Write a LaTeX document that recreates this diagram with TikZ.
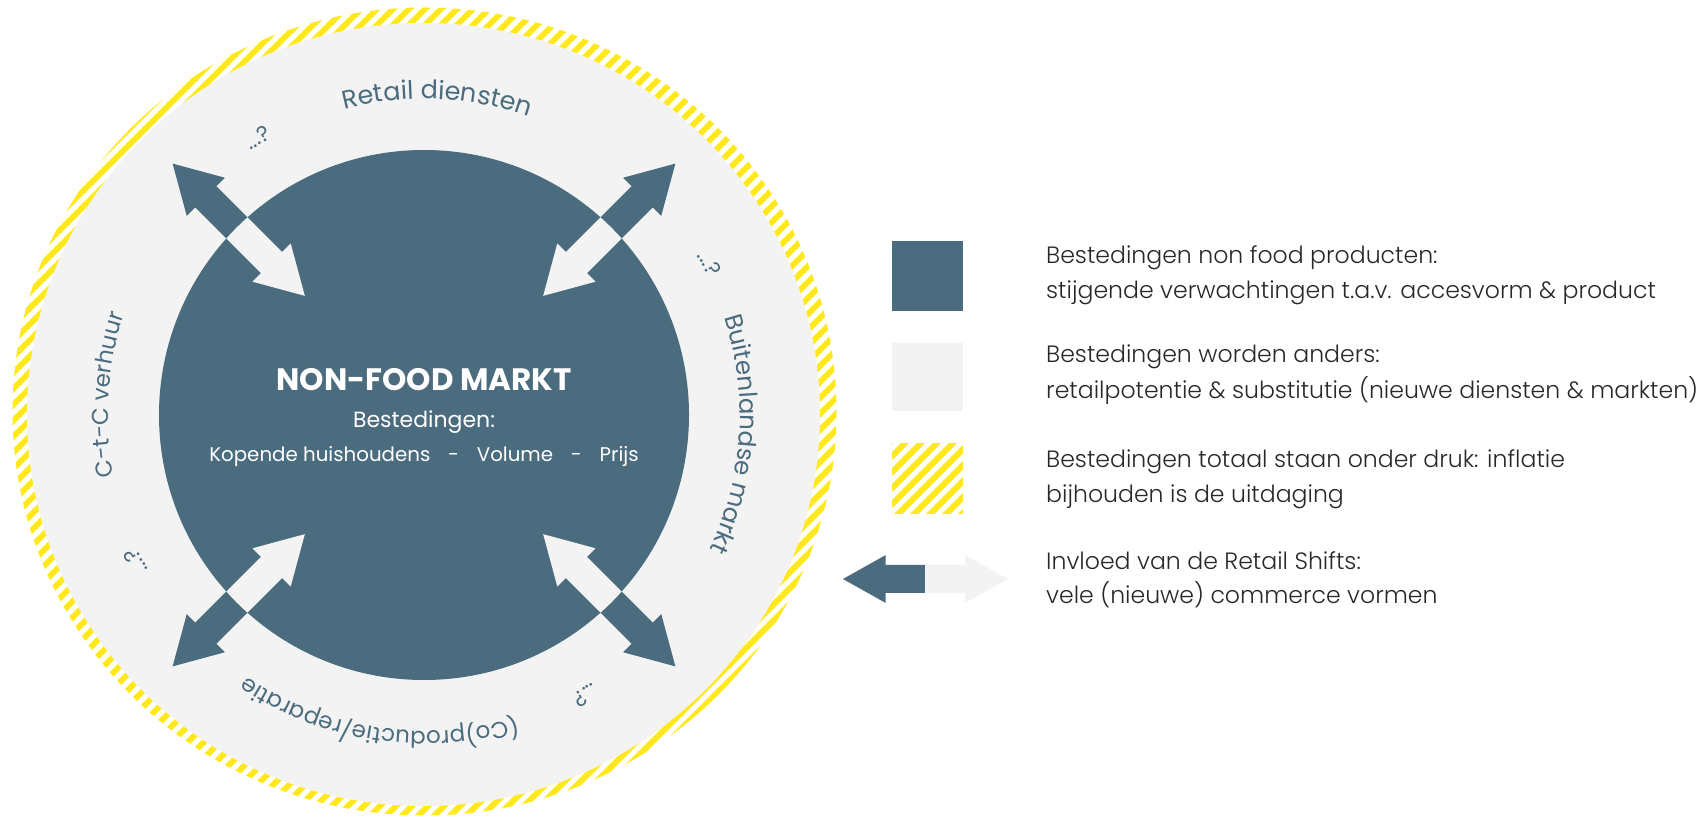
\documentclass[tikz,border=0pt]{standalone}
\usepackage{fontspec}
\setmainfont{Poppins}
\newfontfamily\lightfont{Poppins Light}
\usetikzlibrary{decorations.text,calc}
\definecolor{dark}{RGB}{74,108,126}
\definecolor{lightgrey}{RGB}{243,243,243}
\definecolor{stripe}{RGB}{255,233,28}
\definecolor{legendtxt}{RGB}{40,40,40}
\newcommand\ringtxt[3]{%
  \path[decorate,decoration={text along path,text align=center,text color=dark,
      text={|\fontsize{#2}{#2}\selectfont|#3}}]
    ($(C)+({#1+60}:316pt)$) arc[start angle={#1+60}, end angle={#1-60}, radius=316pt];}
\begin{document}
\begin{tikzpicture}[x=1pt,y=1pt,
  txt/.style={inner sep=0pt, text height=0.7em, text depth=0pt},
  legend/.style={txt, anchor=west, text=legendtxt, font=\lightfont\fontsize{23.6}{23.6}\selectfont},
  stripeline/.style={draw=stripe, line width=6pt}]
\useasboundingbox (0,0) rectangle (1703,820);
\coordinate (C) at (424,405);
% striped outer ring
\begin{scope}
  \clip (424.5,408.5) ellipse[x radius=412pt, y radius=404pt];
  \fill[white] (0,0) rectangle (860,820);
  \foreach \t in {-850,-834,...,850} \draw[stripeline] (\t,0) -- ++(900,900);
\end{scope}
% grey disk
\fill[lightgrey] (423.5,405.5) ellipse[x radius=396.5pt, y radius=391.5pt];
% dark disk
\fill[dark] (C) circle[radius=265pt];
% arrows
\foreach \a in {45,135,225,315}{
  \begin{scope}[shift={(C)},rotate=\a,shift={(262,0)}]
    \fill[dark] (-93.5,0) -- (-46.5,27) -- (-46.5,15) -- (46.5,15) -- (46.5,27) -- (93.5,0)
      -- (46.5,-27) -- (46.5,-15) -- (-46.5,-15) -- (-46.5,-27) -- cycle;
  \end{scope}}
\begin{scope}
  \clip (C) circle[radius=265pt];
  \foreach \a in {45,135,225,315}{
    \begin{scope}[shift={(C)},rotate=\a,shift={(262,0)}]
      \fill[lightgrey] (-93.5,0) -- (-46.5,27) -- (-46.5,15) -- (46.5,15) -- (46.5,27) -- (93.5,0)
        -- (46.5,-27) -- (46.5,-15) -- (-46.5,-15) -- (-46.5,-27) -- cycle;
    \end{scope}}
\end{scope}
% centre texts
\node[txt, text=white, font=\bfseries\fontsize{31}{31}\selectfont] (title) at (424,433) {NON-FOOD MARKT};
\node[txt, text=white, font=\fontsize{22}{22}\selectfont] (sub) at (424,396) {Bestedingen:};
\node[txt, text=white, font=\fontsize{19.8}{19.8}\selectfont] (items) at (424,362)
  {Kopende huishoudens\hspace{0.9em}-\hspace{0.9em}Volume\hspace{0.9em}-\hspace{0.9em}Prijs};
% ring texts
\ringtxt{87.6}{25.5}{Retail diensten}
\ringtxt{-3.6}{24.5}{Buitenlandse markt}
\ringtxt{-98.5}{23}{(Co)productie/reparatie}
\ringtxt{176.3}{23}{C-t-C verhuur}
\ringtxt{121}{22}{...?}
\ringtxt{28}{22}{...?}
\ringtxt{-60}{22}{...?}
\ringtxt{207}{22}{...?}
% legend
\fill[dark] (892,509) rectangle (963,579);
\fill[lightgrey] (892,409) rectangle (963,477);
\begin{scope}
  \clip (892,306) rectangle (963,376);
  \foreach \t in {-100,-84,...,90} \draw[stripeline] (892+\t,296) -- ++(100,100);
\end{scope}
\fill[dark] (843,241) -- (885.7,265) -- (885.7,255) -- (925,255) -- (925,227) -- (885.7,227) -- (885.7,217) -- cycle;
\fill[lightgrey] (925,255) -- (965,255) -- (965,265) -- (1008,241) -- (965,217) -- (965,227) -- (925,227) -- cycle;
\node[legend] (l1a) at (1046,560) {Bestedingen non food producten:};
\node[legend] (l1b) at (1046,525) {stijgende verwachtingen t.a.v. accesvorm \& product};
\node[legend] (l2a) at (1046,461) {Bestedingen worden anders:};
\node[legend] (l2b) at (1046,425) {retailpotentie \& substitutie (nieuwe diensten \& markten)};
\node[legend] (l3a) at (1046,356) {Bestedingen totaal staan onder druk: inflatie};
\node[legend] (l3b) at (1046,321) {bijhouden is de uitdaging};
\node[legend] (l4a) at (1046,254) {Invloed van de Retail Shifts:};
\node[legend] (l4b) at (1046,220) {vele (nieuwe) commerce vormen};
\end{tikzpicture}
\end{document}
